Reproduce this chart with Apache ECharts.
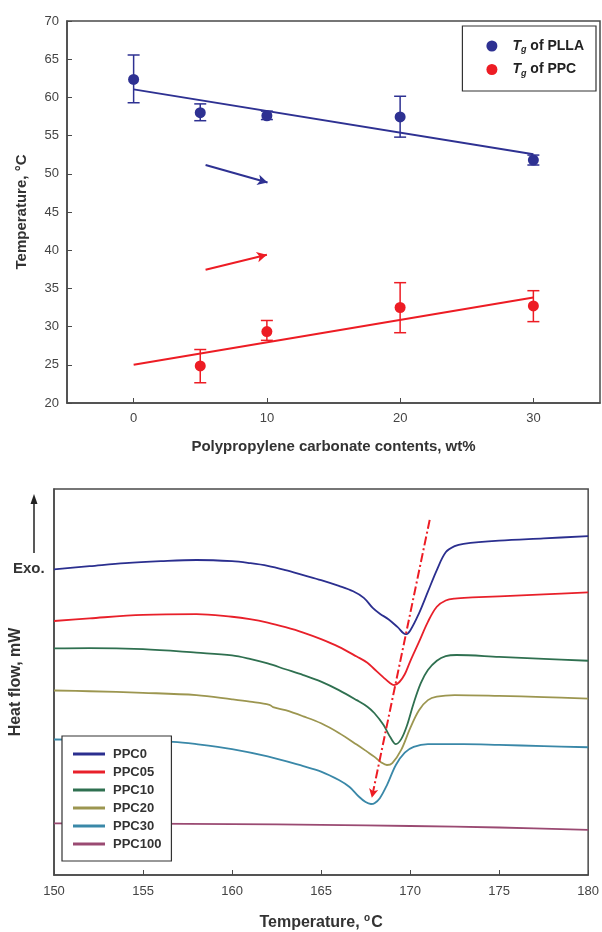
<!DOCTYPE html>
<html>
<head>
<meta charset="utf-8">
<script src="https://cdn.jsdelivr.net/npm/echarts@6/dist/echarts.min.js"></script>
<style>
html,body{margin:0;padding:0;background:#fff;}
#main{width:602px;height:932px;}
</style>
</head>
<body>
<div id="main"></div>
<script>
// ---- Top chart data (Tg vs PPC content) ----
const xTicksTop = [0, 10, 20, 30];
const pllaX = [0, 5, 10, 20, 30];
const pllaY = [62.35, 58.0, 57.6, 57.45, 51.8];
const pllaLow = [59.3, 56.95, 57.1, 54.8, 51.15];
const pllaHigh = [65.55, 59.15, 58.2, 60.15, 52.45];
const pllaFit = [[0, 61.05], [30, 52.55]];

const ppcX = [5, 10, 20, 30];
const ppcY = [24.85, 29.35, 32.5, 32.7];
const ppcLow = [22.65, 28.2, 29.2, 30.65];
const ppcHigh = [27.0, 30.8, 35.75, 34.7];
const ppcFit = [[0, 25.0], [30, 33.8]];

const arrowPLLA = [[5.4, 51.15], [10.05, 48.85]];
const arrowPPC = [[5.4, 37.45], [10.0, 39.4]];

// ---- Bottom chart data (DSC heat flow curves, arbitrary units) ----
const dscNames = ['PPC0', 'PPC05', 'PPC10', 'PPC20', 'PPC30', 'PPC100'];
const ppc0 = [[150,79.2],[152,80.0],[154,80.8],[156,81.3],[158,81.6],[160,81.3],[161,80.8],[162,80.1],[163,79.0],[164,77.7],[165,76.4],[166,74.9],[166.8,73.5],[167.4,71.8],[167.9,69.2],[168.3,67.7],[168.8,66.2],[169.3,64.2],[169.75,62.4],[170.0,63.3],[170.5,67.8],[171.0,73.4],[171.5,79.0],[172.0,83.6],[172.5,85.2],[173.0,85.8],[175,86.6],[177.5,87.2],[180,87.8]];
const ppc05 = [[150,65.8],[152,66.5],[155,67.4],[158,67.6],[160,66.9],[161,66.3],[162,65.4],[163,64.2],[164,62.8],[165,61.1],[166,59.1],[167,56.6],[167.6,55.0],[168,53.3],[168.5,51.2],[168.85,49.8],[169.1,49.2],[169.4,50.0],[169.7,52.0],[170.0,55.3],[170.5,60.4],[171.0,65.6],[171.5,69.5],[172.0,71.1],[172.5,71.6],[173.5,71.9],[175,72.2],[177.5,72.7],[180,73.2]];
const ppc10 = [[150,58.7],[152,58.8],[155,58.5],[158,57.6],[160,56.9],[161,56.0],[162,54.8],[163,53.3],[164,51.8],[165,50.1],[166,47.9],[167,45.3],[167.6,43.6],[168,41.9],[168.5,38.9],[168.9,35.6],[169.2,33.9],[169.5,35.2],[169.8,38.4],[170.2,44.5],[170.6,49.7],[171.0,53.1],[171.5,55.5],[172.0,56.7],[172.6,57.0],[175,56.5],[177.5,56.0],[180,55.5]];
const ppc20 = [[150,47.8],[152,47.6],[155,47.2],[158,46.6],[160,45.5],[161,44.9],[162.1,44.1],[162.3,43.5],[163,42.7],[164,41.1],[165,39.3],[166,36.8],[167,33.8],[167.6,31.9],[168,30.6],[168.4,29.1],[168.7,28.5],[169.0,29.0],[169.5,32.4],[170.0,38.0],[170.5,42.7],[171.0,45.3],[171.5,46.2],[172.5,46.6],[175,46.4],[177.5,46.1],[180,45.7]];
const ppc30 = [[150,35.1],[152,35.0],[154,34.8],[156.7,34.5],[158,33.9],[160,32.6],[162,30.7],[164,28.2],[165,26.8],[166,24.6],[166.6,22.8],[167.1,20.4],[167.5,18.9],[167.8,18.4],[168.0,18.6],[168.3,19.9],[168.7,23.3],[169.2,28.5],[169.7,31.7],[170.2,33.2],[171.0,33.9],[173,33.9],[175,33.7],[177.5,33.4],[180,33.1]];
const ppc100 = [[150,13.4],[155,13.3],[160,13.2],[165,13.0],[170,12.7],[175,12.3],[180,11.7]];
const dscData = [ppc0, ppc05, ppc10, ppc20, ppc30, ppc100];
const dscColors = ['#2b2f8f', '#e8202a', '#2f7050', '#9c9650', '#3a88a8', '#9a4a72'];
const peakGuide = [[171.1, 92.0], [167.85, 20.0]];

const chart = echarts.init(document.getElementById('main'), null, {renderer: 'canvas'});
const FONT = 'Liberation Sans, Arial, sans-serif';
const AX = '#4a4a4a';
const BLUE = '#2e3192';
const RED = '#ed1c24';

function errSeries(name, xs, lows, highs, color) {
  return {
    type: 'custom', name: name + '_err', xAxisIndex: 0, yAxisIndex: 0, z: 3,
    data: xs.map((x, i) => [x, lows[i], highs[i]]),
    renderItem: function (params, api) {
      const lo = api.coord([api.value(0), api.value(1)]);
      const hi = api.coord([api.value(0), api.value(2)]);
      const w = 6;
      const st = {stroke: color, lineWidth: 1.5};
      return {type: 'group', children: [
        {type: 'line', shape: {x1: lo[0], y1: lo[1], x2: hi[0], y2: hi[1]}, style: st},
        {type: 'line', shape: {x1: lo[0]-w, y1: lo[1], x2: lo[0]+w, y2: lo[1]}, style: st},
        {type: 'line', shape: {x1: hi[0]-w, y1: hi[1], x2: hi[0]+w, y2: hi[1]}, style: st}
      ]};
    }
  };
}

const tgRich = {
  t: {fontStyle: 'italic', fontWeight: 'bold', fontSize: 14, fontFamily: FONT, color: '#222'},
  g: {fontStyle: 'italic', fontWeight: 'bold', fontSize: 9, fontFamily: FONT, color: '#222', padding: [8, 0, 0, 0]},
  n: {fontWeight: 'bold', fontSize: 14, fontFamily: FONT, color: '#222'}
};

const option = {
  backgroundColor: '#fff',
  animation: false,
  grid: [
    {left: 67, top: 21, right: 2, height: 382, show: true, borderColor: AX, borderWidth: 1.5},
    {left: 54, top: 489, right: 12, height: 386, show: true, borderColor: AX, borderWidth: 1.5}
  ],
  legend: [
    {
      data: ['PLLA', 'PPC'], orient: 'vertical', right: 6, top: 26,
      padding: [13, 12, 13, 24], itemGap: 8, itemWidth: 11, itemHeight: 11,
      borderColor: '#333', borderWidth: 1.2, backgroundColor: '#fff',
      formatter: function (n) { return '{t|T}{g|g}{n| of ' + n + '}'; },
      textStyle: {rich: tgRich, padding: [0, 0, 0, 10]}
    },
    {
      data: dscNames, orient: 'vertical', left: 62, top: 736,
      padding: [11, 10, 10, 11], itemGap: 4, itemWidth: 32, itemHeight: 3, icon: 'rect',
      borderColor: '#333', borderWidth: 1.2, backgroundColor: '#fff',
      textStyle: {fontFamily: FONT, fontWeight: 'bold', fontSize: 13, color: '#333', lineHeight: 14, padding: [0, 0, 0, 3]}
    }
  ],
  xAxis: [
    {
      type: 'value', gridIndex: 0, min: -5, max: 35,
      name: 'Polypropylene carbonate contents, wt%', nameLocation: 'middle', nameGap: 36,
      nameTextStyle: {fontFamily: FONT, fontWeight: 'bold', fontSize: 15, color: '#333'},
      axisLine: {onZero: false, lineStyle: {color: AX, width: 1.5}},
      axisTick: {inside: true, length: 5, customValues: xTicksTop, lineStyle: {color: AX}},
      axisLabel: {customValues: xTicksTop, fontFamily: FONT, fontSize: 13, color: '#444', margin: 9},
      splitLine: {show: false}
    },
    {
      type: 'value', gridIndex: 1, min: 150, max: 180, interval: 5,
      name: 'Temperature, {s|o}C', nameLocation: 'middle', nameGap: 38,
      nameTextStyle: {fontFamily: FONT, fontWeight: 'bold', fontSize: 16, color: '#333',
        rich: {s: {fontFamily: FONT, fontWeight: 'bold', fontSize: 10, color: '#333', padding: [0, 1, 9, 0]}}},
      axisLine: {onZero: false, lineStyle: {color: AX, width: 1.5}},
      axisTick: {inside: true, length: 5, lineStyle: {color: AX}},
      axisLabel: {fontFamily: FONT, fontSize: 13, color: '#444', margin: 10, showMaxLabel: true, showMinLabel: true},
      splitLine: {show: false}
    }
  ],
  yAxis: [
    {
      type: 'value', gridIndex: 0, min: 20, max: 70, interval: 5,
      name: 'Temperature, °C', nameLocation: 'middle', nameGap: 38,
      nameTextStyle: {fontFamily: FONT, fontWeight: 'bold', fontSize: 15, color: '#333'},
      axisLine: {show: true, onZero: false, lineStyle: {color: AX, width: 1.5}},
      axisTick: {inside: true, length: 5, lineStyle: {color: AX}},
      axisLabel: {fontFamily: FONT, fontSize: 13, color: '#444', margin: 8},
      splitLine: {show: false}
    },
    {
      type: 'value', gridIndex: 1, min: 0, max: 100,
      name: 'Heat flow, mW', nameLocation: 'middle', nameGap: 30,
      nameTextStyle: {fontFamily: FONT, fontWeight: 'bold', fontSize: 16, color: '#333'},
      axisLine: {show: true, onZero: false, lineStyle: {color: AX, width: 1.5}},
      axisTick: {show: false}, axisLabel: {show: false}, splitLine: {show: false}
    }
  ],
  graphic: [
    {type: 'text', left: 13, top: 561, style: {text: 'Exo.', fontFamily: FONT, fontWeight: 'bold', fontSize: 15, fill: '#333'}},
    {type: 'line', shape: {x1: 34, y1: 553, x2: 34, y2: 502}, style: {stroke: '#222', lineWidth: 1.5}},
    {type: 'polygon', shape: {points: [[34, 494], [30.5, 504], [37.5, 504]]}, style: {fill: '#222'}}
  ],
  series: [
    {type: 'line', name: 'PLLA_fit', xAxisIndex: 0, yAxisIndex: 0, data: pllaFit, showSymbol: false,
     lineStyle: {color: BLUE, width: 2}, z: 2, silent: true,
     markLine: {silent: true, symbol: ['none', 'arrow'], symbolSize: [8, 10], label: {show: false},
       lineStyle: {color: BLUE, width: 2, type: 'solid'},
       data: [[{coord: arrowPLLA[0]}, {coord: arrowPLLA[1]}]]}},
    {type: 'line', name: 'PPC_fit', xAxisIndex: 0, yAxisIndex: 0, data: ppcFit, showSymbol: false,
     lineStyle: {color: RED, width: 2}, z: 2, silent: true,
     markLine: {silent: true, symbol: ['none', 'arrow'], symbolSize: [8, 10], label: {show: false},
       lineStyle: {color: RED, width: 2, type: 'solid'},
       data: [[{coord: arrowPPC[0]}, {coord: arrowPPC[1]}]]}},
    errSeries('PLLA', pllaX, pllaLow, pllaHigh, BLUE),
    errSeries('PPC', ppcX, ppcLow, ppcHigh, RED),
    {type: 'scatter', name: 'PLLA', xAxisIndex: 0, yAxisIndex: 0, symbolSize: 11, z: 4,
     itemStyle: {color: BLUE, opacity: 1}, data: pllaX.map((x, i) => [x, pllaY[i]])},
    {type: 'scatter', name: 'PPC', xAxisIndex: 0, yAxisIndex: 0, symbolSize: 11, z: 4,
     itemStyle: {color: RED, opacity: 1}, data: ppcX.map((x, i) => [x, ppcY[i]])}
  ].concat(dscNames.map((n, i) => ({
    type: 'line', name: n, xAxisIndex: 1, yAxisIndex: 1, data: dscData[i],
    showSymbol: false, smooth: 0.35,
    itemStyle: {color: dscColors[i]}, lineStyle: {color: dscColors[i], width: 1.8}, z: 2
  }))).concat([
    {type: 'line', name: 'guide', xAxisIndex: 1, yAxisIndex: 1, data: [], showSymbol: false,
     markLine: {silent: true, symbol: ['none', 'arrow'], symbolSize: [7, 9], label: {show: false},
       lineStyle: {color: RED, width: 2, type: [9, 3, 2, 3]},
       data: [[{coord: peakGuide[0]}, {coord: peakGuide[1]}]]}}
  ])
};
chart.setOption(option);
</script>
</body>
</html>
